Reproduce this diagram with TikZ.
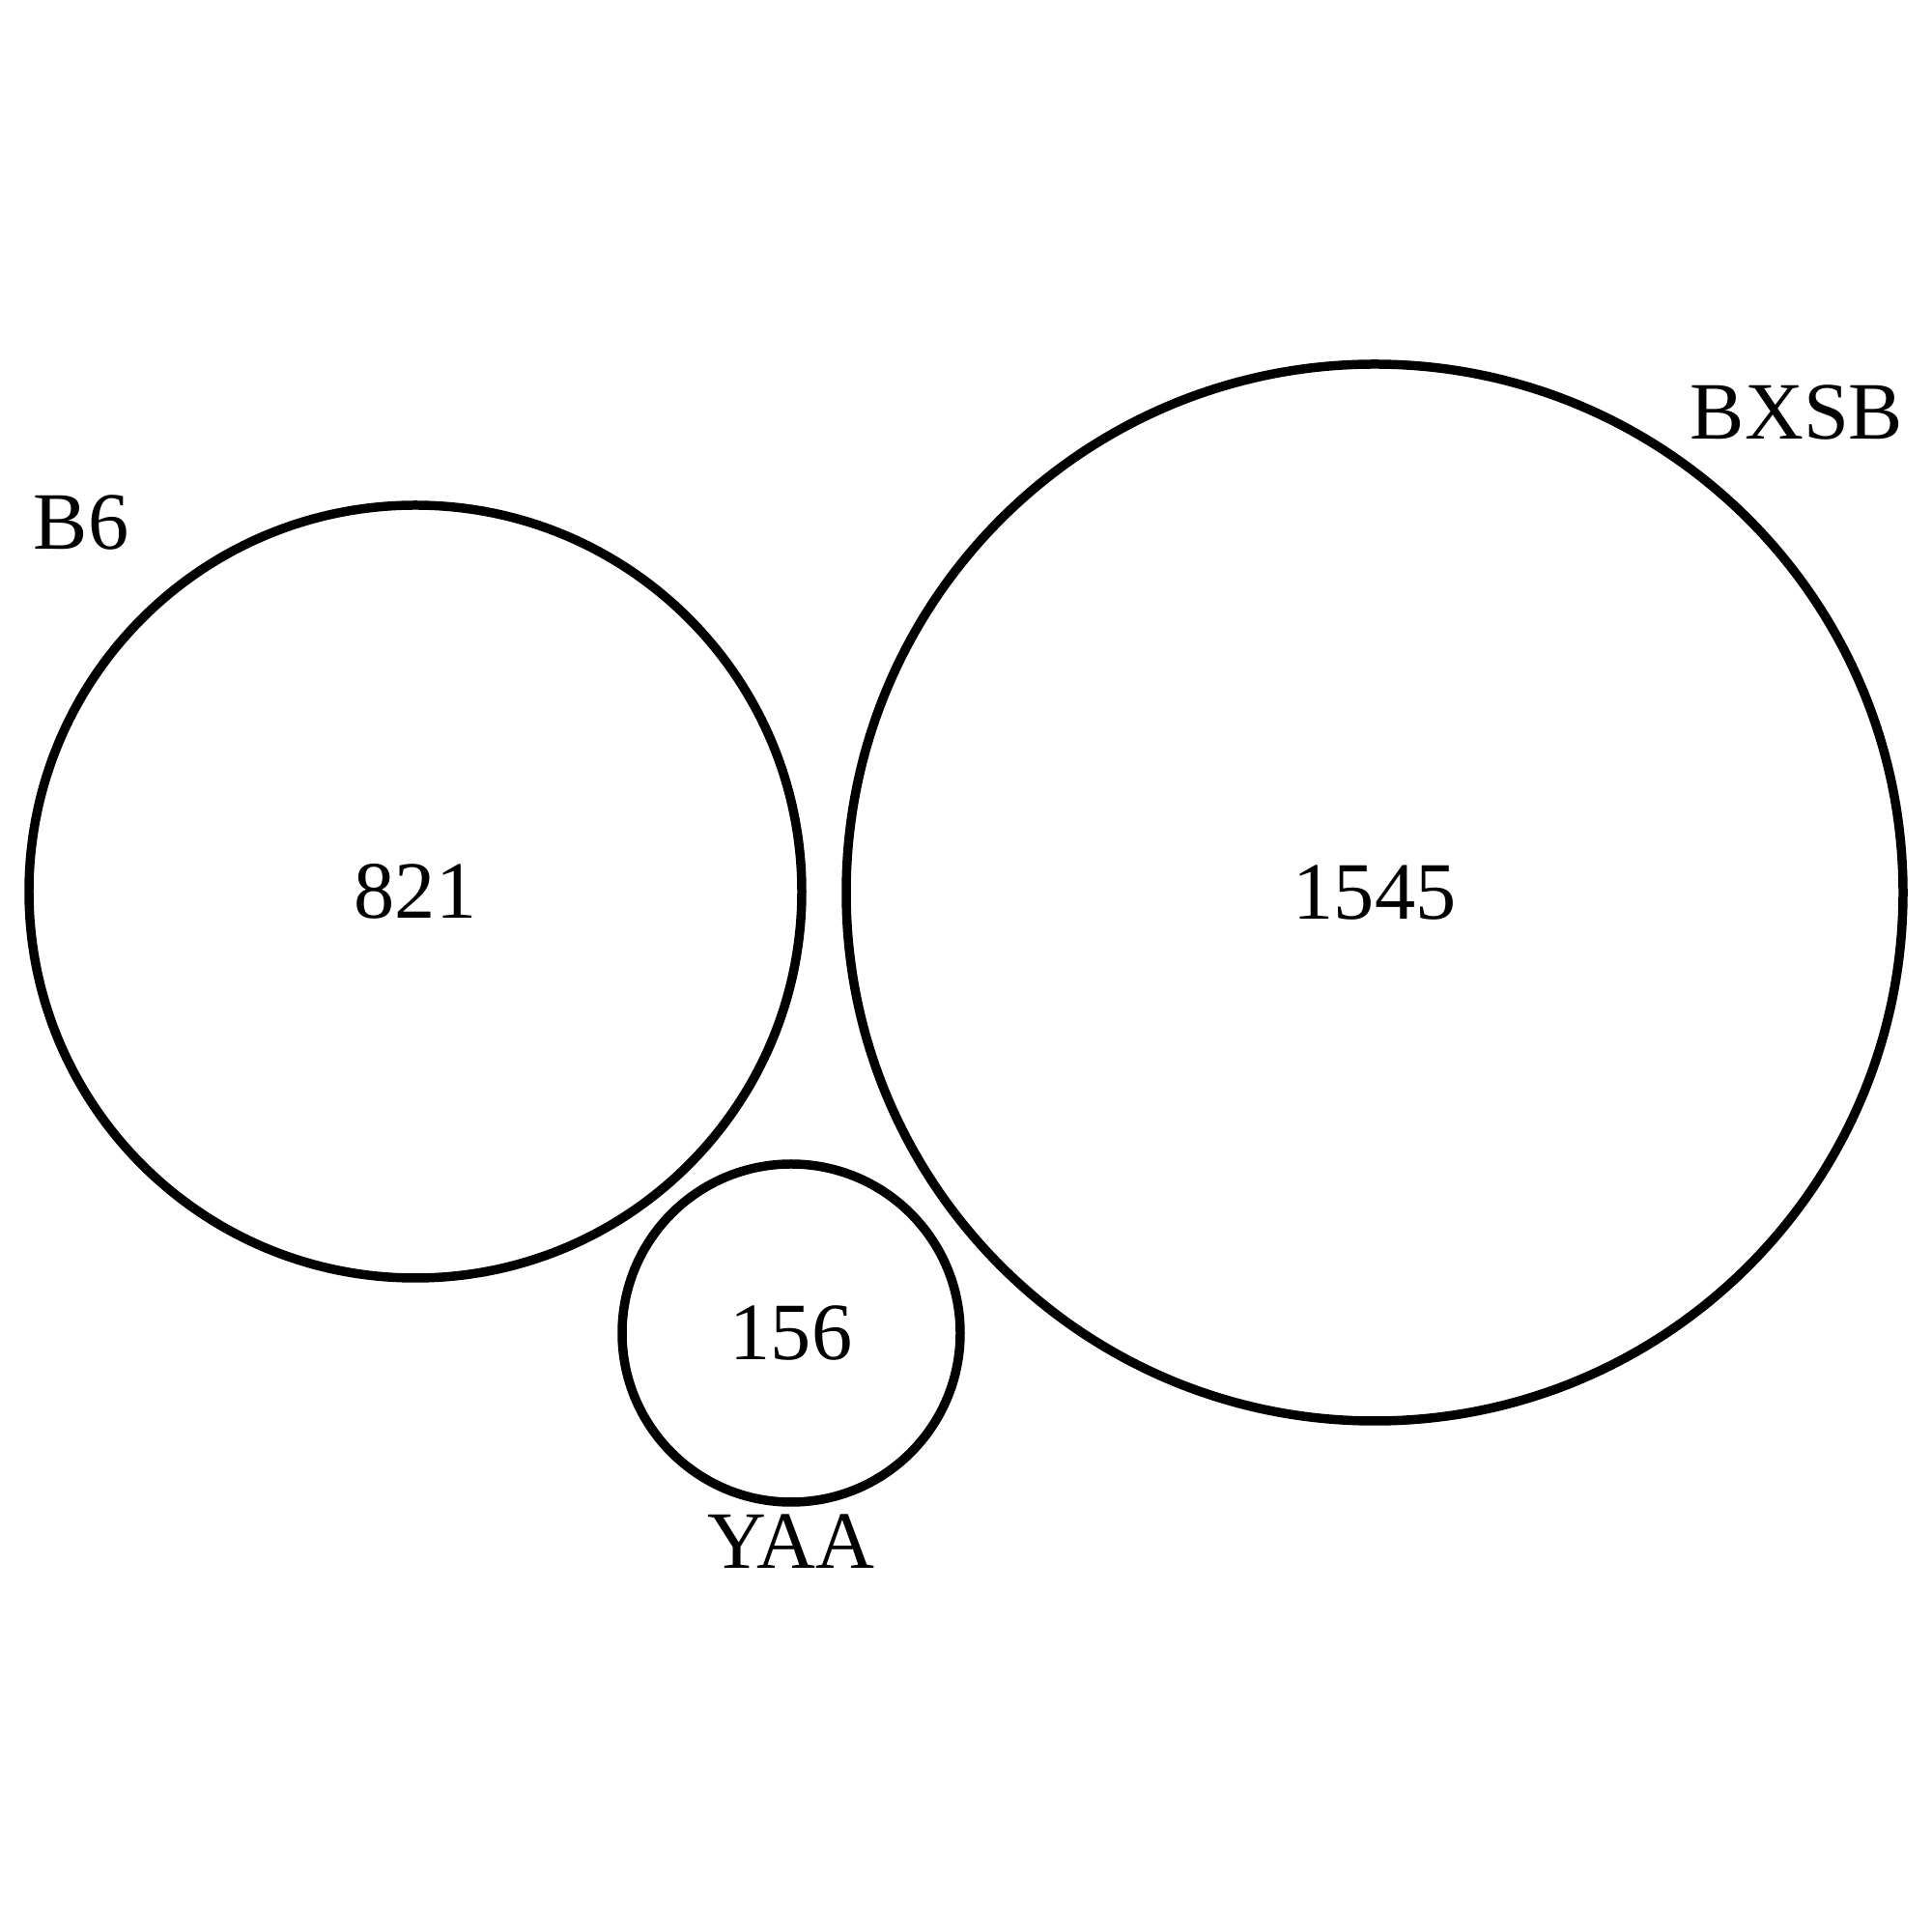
\documentclass[tikz,border=0pt]{standalone}
\usepackage{fontspec}
\setmainfont{Liberation Serif}
\usepackage{tikz}

\begin{document}
\begin{tikzpicture}
\tikzstyle{setStyle} = [shape = circle, draw, line width = 2.7pt, inner sep = 0pt, font = \fontsize{24}{29}\selectfont]
\tikzstyle{nameStyle} = [inner sep = 0pt, font = \fontsize{24}{29}\selectfont]
\useasboundingbox (0,0) rectangle (20,20);
\node[setStyle, minimum size = 8cm] (b6) at (4.30, 10.77) {821};
\node[setStyle, minimum size = 10.94cm] (bxsb) at (14.23, 10.76) {1545};
\node[setStyle, minimum size = 3.5cm] (yaa) at (8.19, 6.20) {156};
\node[nameStyle] (b6name) at (0.84, 14.59) {B6};
\node[nameStyle] (bxsbname) at (18.60, 15.73) {BXSB};
\node[nameStyle] (yaaname) at (8.19, 4.04) {YAA};
\end{tikzpicture}
\end{document}
